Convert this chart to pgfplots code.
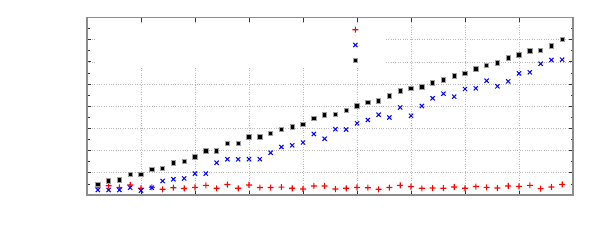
\documentclass[border=0pt]{standalone}
\usepackage{pgfplots}
\pgfplotsset{compat=1.18}
\definecolor{gpred}{RGB}{255,0,0}
\definecolor{gpblue}{RGB}{0,0,255}
\pgfdeclareplotmark{gpplus}{%
  \pgfpathrectangle{\pgfpoint{-\pgfplotmarksize}{-0.55bp}}{\pgfpoint{2\pgfplotmarksize}{1.1bp}}%
  \pgfpathrectangle{\pgfpoint{-0.55bp}{-\pgfplotmarksize}}{\pgfpoint{1.1bp}{2\pgfplotmarksize}}%
  \pgfusepathqfill}
\pgfplotstableread{
x y
1 0.482
2 0.631
3 0.676
4 0.933
5 0.933
6 1.149
7 1.203
8 1.442
9 1.523
10 1.726
11 1.992
12 1.992
13 2.330
14 2.317
15 2.623
16 2.628
17 2.781
18 2.966
19 3.078
20 3.186
21 3.461
22 3.606
23 3.637
24 3.808
25 4.025
26 4.178
27 4.237
28 4.462
29 4.701
30 4.809
31 4.868
32 5.048
33 5.183
34 5.377
35 5.485
36 5.692
37 5.846
38 5.949
39 6.175
40 6.310
41 6.504
42 6.522
43 6.729
44 7.017
24.85 6.071
}\blackdata
\pgfplotstableread{
x y
1 0.225
2 0.225
3 0.225
4 0.329
5 0.194
6 0.329
7 0.631
8 0.708
9 0.744
10 0.965
11 0.965
12 1.456
13 1.609
14 1.609
15 1.614
16 1.614
17 1.906
18 2.163
19 2.240
20 2.366
21 2.749
22 2.533
23 2.966
24 2.952
25 3.232
26 3.380
27 3.619
28 3.493
29 3.944
30 3.570
31 4.011
32 4.358
33 4.566
34 4.430
35 4.777
36 4.809
37 5.152
38 4.899
39 5.124
40 5.485
41 5.530
42 5.918
43 6.085
44 6.098
24.85 6.761
}\bluedata
\pgfplotstableread{
x y
1 0.361
2 0.419
3 0.347
4 0.451
5 0.302
6 0.347
7 0.257
8 0.329
9 0.293
10 0.347
11 0.437
12 0.302
13 0.473
14 0.302
15 0.451
16 0.338
17 0.338
18 0.352
19 0.302
20 0.270
21 0.406
22 0.406
23 0.270
24 0.302
25 0.347
26 0.329
27 0.257
28 0.338
29 0.437
30 0.379
31 0.302
32 0.315
33 0.306
34 0.361
35 0.302
36 0.383
37 0.347
38 0.315
39 0.406
40 0.392
41 0.437
42 0.284
43 0.361
44 0.482
24.85 7.450
}\reddata
\begin{document}
\begin{tikzpicture}
\useasboundingbox (0,0) rectangle (600bp,245bp);
\begin{axis}[
  at={(87bp,50bp)}, anchor=south west,
  scale only axis, width=486bp, height=177.5bp,
  xmin=0, xmax=45, ymin=0, ymax=8,
  xtick={0,5,...,45}, ytick={0,1,...,8},
  minor ytick={0.5,1.5,...,7.5},
  xticklabels={}, yticklabels={},
  tick align=inside,
  major tick length=4bp, minor tick length=2.5bp,
  every tick/.style={black!80, line width=0.8bp},
  axis line style={gray!90, line width=1.2bp},
  grid=major,
  major grid style={gray!55, dotted, line width=0.7bp},
  clip=false,
]
\fill[white] (axis cs:0.83,5.72) rectangle (axis cs:27.5,7.75);
\addplot[only marks, mark=gpplus, color=gpred, fill=gpred, mark size=3bp, mark options={fill=gpred, draw=none}] table {\reddata};
\addplot[only marks, mark=x, color=gpblue, mark size=3bp, line width=1bp] table {\bluedata};
\addplot[only marks, mark=square*, mark size=2.2bp, draw=gray!75, fill=black, line width=0.7bp] table {\blackdata};
\end{axis}
\end{tikzpicture}
\end{document}
